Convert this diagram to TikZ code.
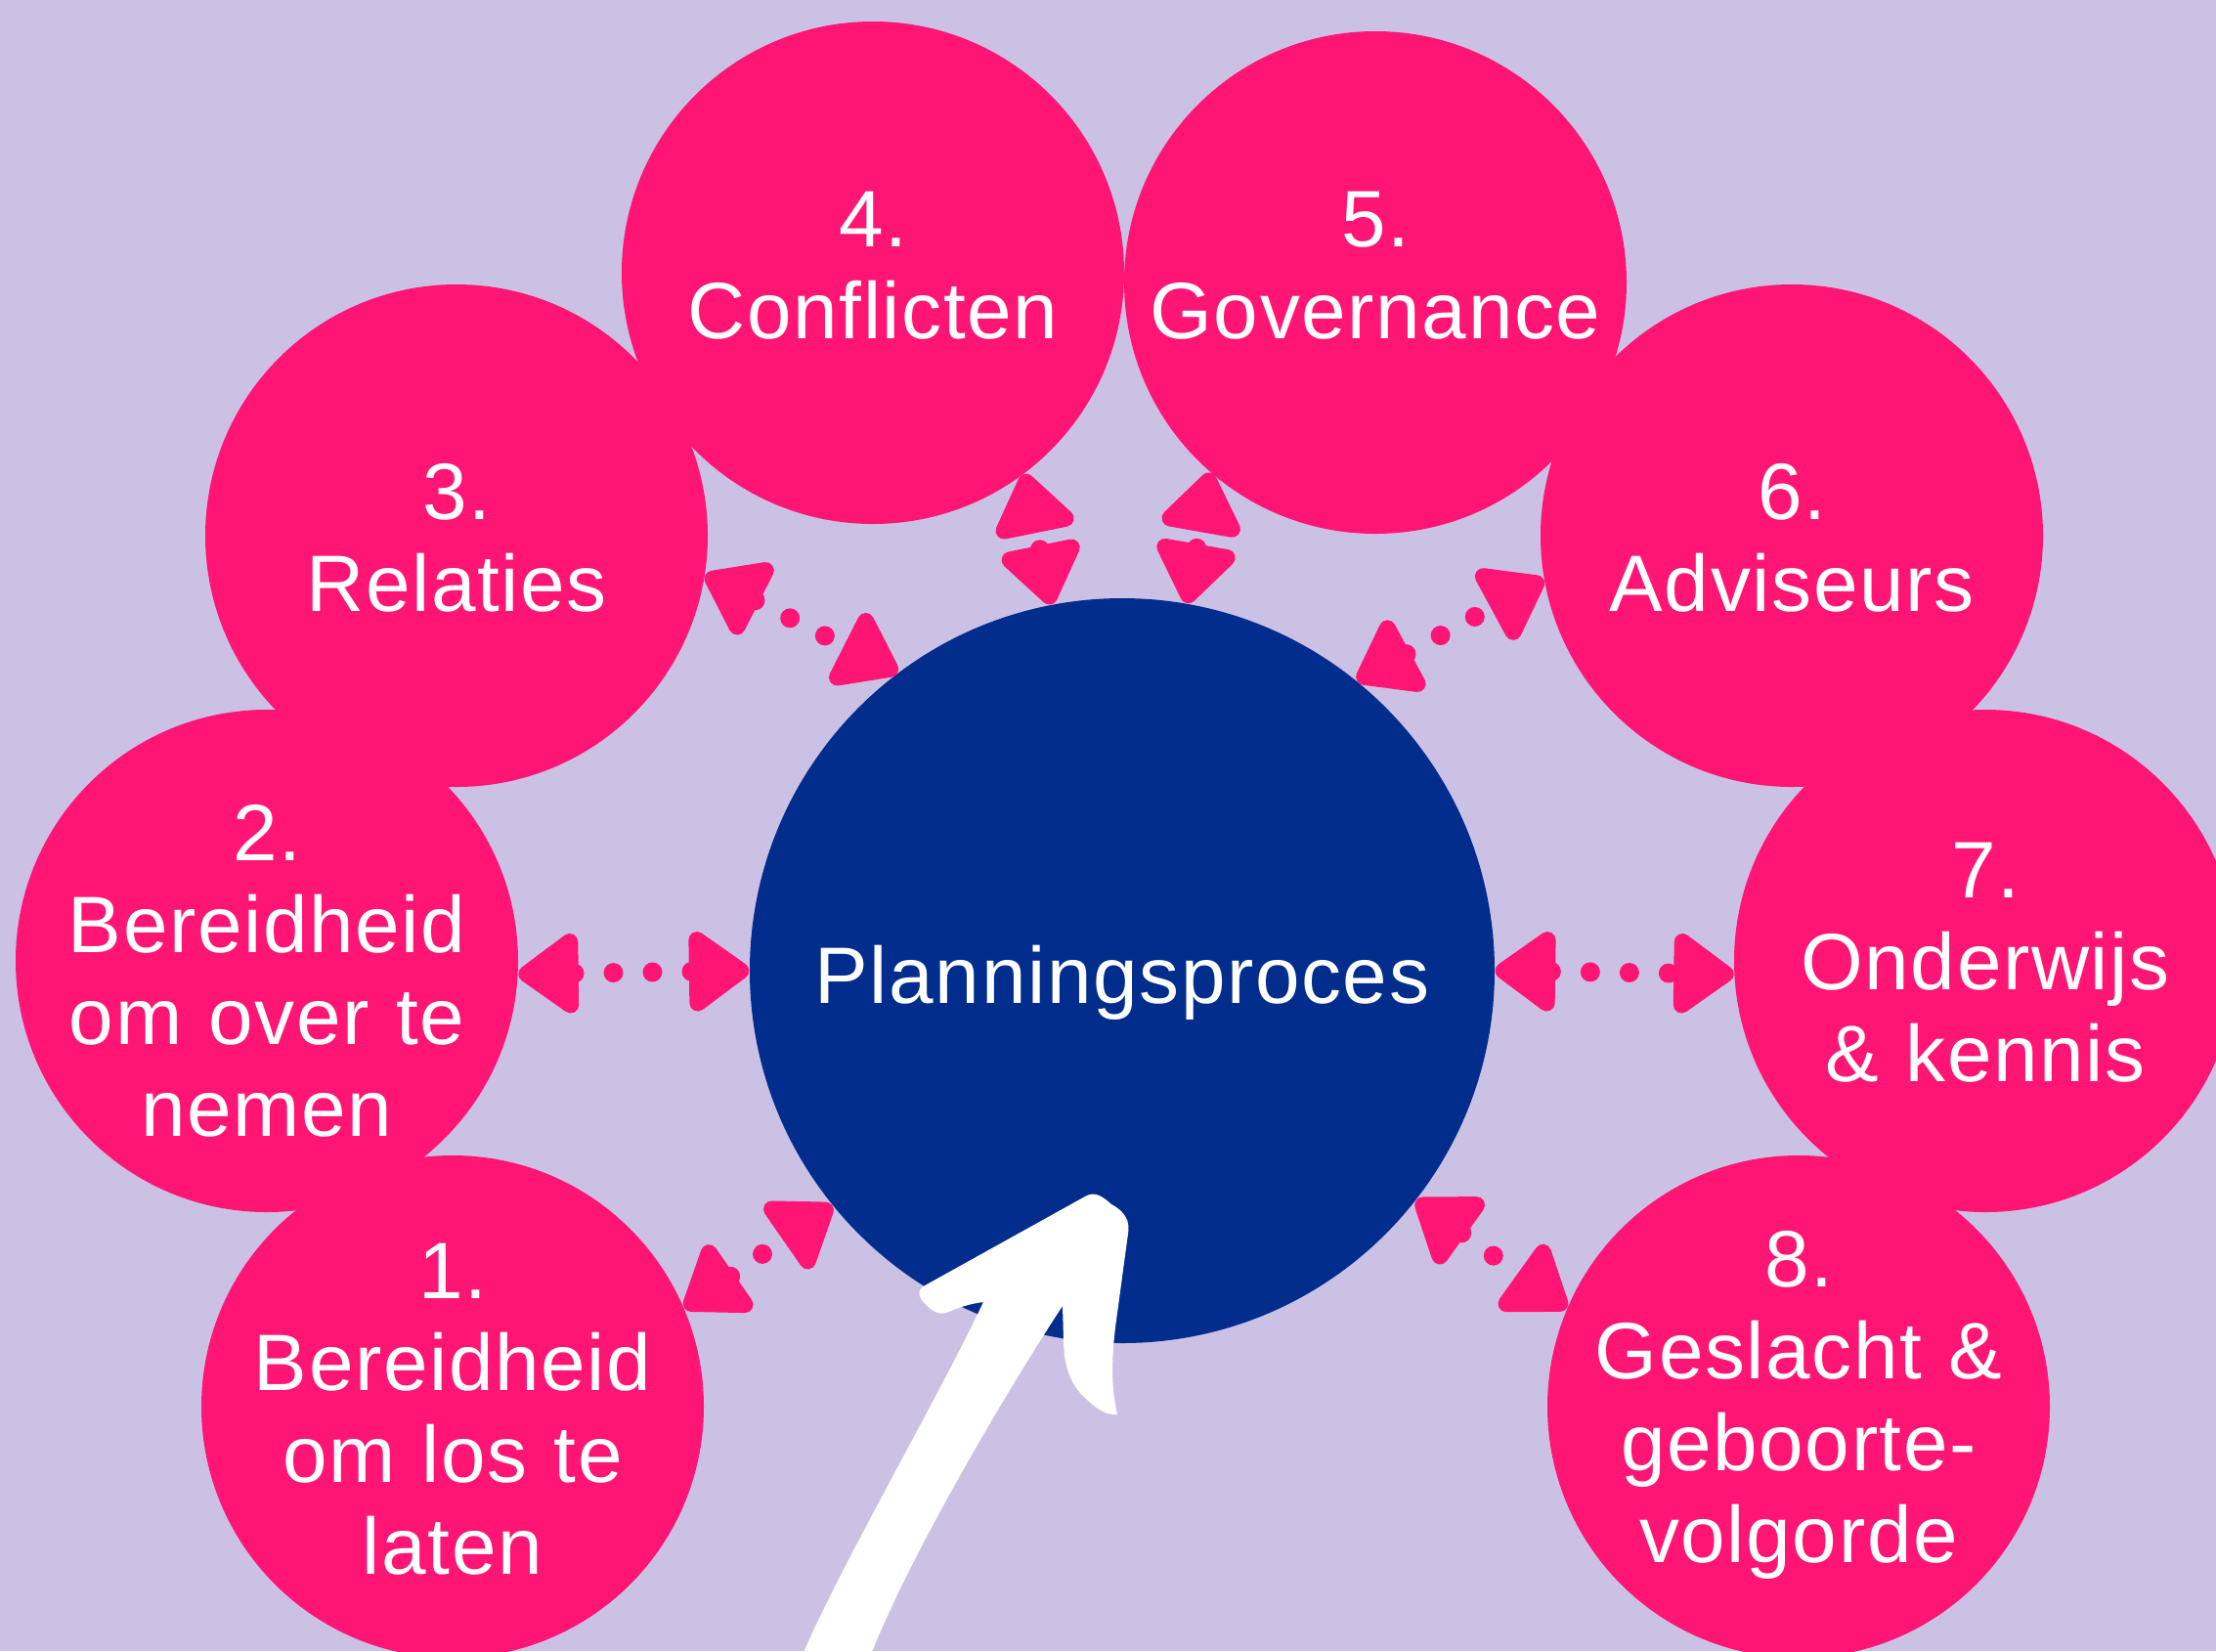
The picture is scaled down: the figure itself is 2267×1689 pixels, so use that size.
\documentclass[tikz,border=0pt]{standalone}
\usepackage{fontspec}
\setmainfont{Liberation Sans}[LetterSpace=2]
\usetikzlibrary{arrows.meta}
\definecolor{bgc}{RGB}{203,193,229}
\definecolor{pinkc}{RGB}{255,21,116}
\definecolor{navyc}{RGB}{3,45,140}
\begin{document}
\begin{tikzpicture}[x=0.1mm,y=-0.1mm,
  bub/.style={circle, fill=pinkc, minimum size=51.4mm, inner sep=0pt},
  hub/.style={circle, fill=navyc, minimum size=76.2mm, inner sep=0pt},
  lbl/.style={text=white, text width=70mm, align=center, inner sep=0pt, anchor=base,
    font=\fontsize{23.3pt}{26.8pt}\selectfont},
  conn/.style={draw=pinkc, line width=2mm, line cap=round, dash pattern=on 0pt off 4mm,
    {Triangle[round,length=6.8mm,width=9.3mm]}-{Triangle[round,length=6.8mm,width=9.3mm]}}]
\useasboundingbox (0,0) rectangle (2267,1689);
\fill[bgc] (0,0) rectangle (2267,1689);
% bubbles
\node[bub] (c1) at (463,1439) {};
\node[bub] (c2) at (273,983) {};
\node[bub] (c3) at (467,548) {};
\node[bub] (c4) at (893,279) {};
\node[bub] (c5) at (1407,289) {};
\node[bub] (c6) at (1833,548) {};
\node[bub] (c7) at (2031,983) {};
\node[bub] (c8) at (1840,1439) {};
\node[hub] (ctr) at (1148,993) {};
% connectors
\draw[conn] (c1.23.3) -- (ctr.219);
\draw[conn] (c2.-3.4) -- (ctr.180.75);
\draw[conn] (c3.-9.7) -- (ctr.127.8);
\draw[conn] (ctr.101.2) -- (c4.-53.7);
\draw[conn] (ctr.80.5) -- (c5.229.1);
\draw[conn] (ctr.51.6) -- (c6.190.2);
\draw[conn] (ctr.-0.75) -- (c7.183.3);
\draw[conn] (ctr.-38.5) -- (c8.157.8);
% white arrow
\fill[white] (818,1700) .. controls (855,1610) and (960,1430) .. (1006,1332)
  .. controls (990,1334) and (980,1338) .. (968,1343)
  .. controls (958,1346) and (950,1338) .. (943,1330)
  .. controls (938,1322) and (940,1318) .. (948,1314)
  -- (1110,1224) .. controls (1120,1218) and (1128,1224) .. (1137,1232)
  .. controls (1152,1240) and (1156,1250) .. (1154,1262)
  -- (1141,1358) .. controls (1136,1400) and (1138,1425) .. (1143,1447)
  .. controls (1130,1448) and (1120,1440) .. (1105,1425)
  .. controls (1092,1410) and (1088,1390) .. (1088,1370)
  -- (1087,1336)
  .. controls (1038,1410) and (930,1590) .. (888,1700) -- cycle;
% labels
\node[lbl] (t1) at (463,1328) {1.\\Bereidheid\\om los te\\laten};
\node[lbl] (t2) at (273,880) {2.\\Bereidheid\\om over te\\nemen};
\node[lbl] (t3) at (467,531) {3.\\Relaties};
\node[lbl] (t4) at (893,252) {4.\\Conflicten};
\node[lbl] (t5) at (1407,252) {5.\\Governance};
\node[lbl] (t6) at (1833,531) {6.\\Adviseurs};
\node[lbl] (t7) at (2031,918) {7.\\Onderwijs\\\& kennis};
\node[lbl] (t8) at (1840,1316) {8.\\Geslacht \&\\geboorte-\\volgorde};
\node[lbl] (tc) at (1148,1026) {Planningsproces};
\end{tikzpicture}
\end{document}
